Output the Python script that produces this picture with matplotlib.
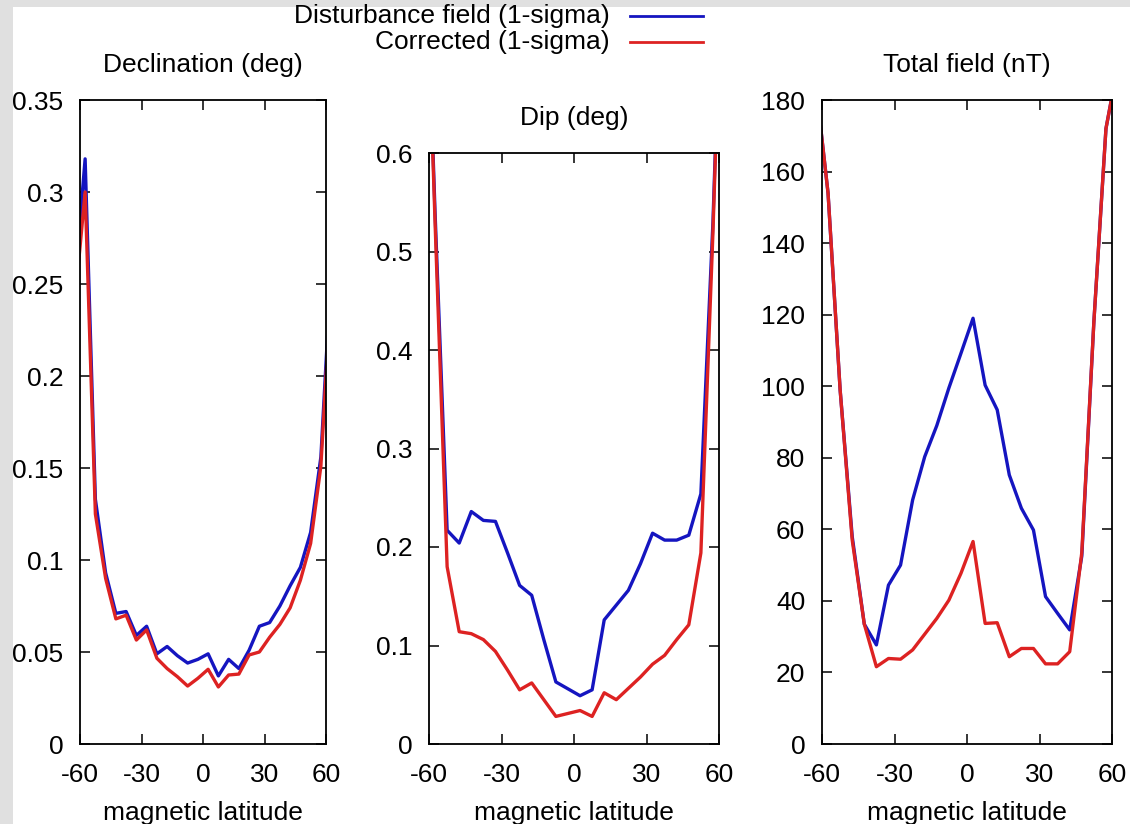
# -*- coding: utf-8 -*-

import matplotlib
matplotlib.use('Agg')
import matplotlib.pyplot as plt
from matplotlib.patches import Rectangle
from matplotlib.lines import Line2D

matplotlib.rc('font', family='Liberation Sans')

# magnetic latitude bins (end points fall just outside the axes and get clipped)
lat = [-62.5, -57.5, -52.5, -47.5, -42.5, -37.5, -32.5, -27.5, -22.5, -17.5,
       -12.5, -7.5, -2.5, 2.5, 7.5, 12.5, 17.5, 22.5, 27.5, 32.5,
       37.5, 42.5, 47.5, 52.5, 57.5, 62.5]

dec_dist = [0.25, 0.318, 0.133, 0.093, 0.071, 0.072, 0.059, 0.064, 0.049, 0.053,
            0.048, 0.044, 0.046, 0.049, 0.037, 0.046, 0.041, 0.051, 0.064, 0.066,
            0.075, 0.086, 0.096, 0.115, 0.156, 0.258]
dec_corr = [0.24, 0.30, 0.125, 0.090, 0.068, 0.070, 0.0565, 0.062, 0.0466, 0.041,
            0.0366, 0.0315, 0.0357, 0.0406, 0.031, 0.0375, 0.038, 0.0484, 0.050, 0.058,
            0.065, 0.074, 0.089, 0.109, 0.151, 0.249]

dip_dist = [0.9, 0.54, 0.217, 0.204, 0.236, 0.227, 0.226, 0.194, 0.161, 0.151,
            0.106, 0.063, 0.056, 0.049, 0.055, 0.126, 0.141, 0.156, 0.183, 0.214,
            0.207, 0.207, 0.212, 0.254, 0.53, 0.9]
dip_corr = [0.9, 0.53, 0.18, 0.114, 0.112, 0.106, 0.094, 0.075, 0.055, 0.062,
            0.045, 0.028, 0.031, 0.034, 0.028, 0.052, 0.045, 0.0565, 0.068, 0.081,
            0.090, 0.106, 0.121, 0.194, 0.52, 0.9]

tot_dist = [184, 154, 99, 58, 33.5, 27.7, 44.4, 50, 68.2, 80.3,
            89, 99.5, 109.2, 119, 100.3, 93.4, 75.2, 65.9, 59.8, 41.2,
            36.5, 31.9, 52.5, 118, 172, 190]
tot_corr = [184, 154, 99, 57, 33.5, 21.6, 23.9, 23.7, 26.3, 30.7,
            35.1, 40.2, 47.7, 56.6, 33.7, 33.9, 24.4, 26.7, 26.7, 22.4,
            22.4, 25.8, 53.5, 118, 172, 190]

x_ticks = [-60, -30, 0, 30, 60]

BLUE = '#1515c0'
RED = '#dd2222'
FS = 19

W, H = 1130, 824
fig = plt.figure(figsize=(W / 100, H / 100), dpi=100, facecolor='white')

# grey frame strips on top and left edge
fig.patches.append(Rectangle((0, 1 - 7 / H), 1, 7 / H, transform=fig.transFigure,
                             facecolor='#e0e0e0', edgecolor='none', zorder=0))
fig.patches.append(Rectangle((0, 0), 13 / W, 1, transform=fig.transFigure,
                             facecolor='#e0e0e0', edgecolor='none', zorder=0))


def make_axes(left, top, right, bottom):
    return fig.add_axes([left / W, 1 - bottom / H, (right - left) / W, (bottom - top) / H])


def style(ax, title, ylim, yticks, ylabels):
    ax.set_xlim(-60, 60)
    ax.set_ylim(*ylim)
    ax.set_xticks(x_ticks)
    ax.set_xticklabels([str(t) for t in x_ticks])
    ax.set_yticks(yticks)
    ax.set_yticklabels(ylabels)
    ax.tick_params(direction='in', top=True, right=True, length=7, width=1.1,
                   labelsize=FS, pad=12)
    ax.tick_params(axis='x', pad=14)
    for s in ax.spines.values():
        s.set_linewidth(1.3)
    ax.set_title(title, fontsize=FS, pad=20)
    ax.set_xlabel('magnetic latitude', fontsize=FS, labelpad=10)


panels = [
    (make_axes(80, 100, 326, 744), 'Declination (deg)', dec_dist, dec_corr, (0, 0.35),
     [0, 0.05, 0.1, 0.15, 0.2, 0.25, 0.3, 0.35],
     ['0', '0.05', '0.1', '0.15', '0.2', '0.25', '0.3', '0.35']),
    (make_axes(429, 153, 719, 744), 'Dip (deg)', dip_dist, dip_corr, (0, 0.6),
     [0, 0.1, 0.2, 0.3, 0.4, 0.5, 0.6],
     ['0', '0.1', '0.2', '0.3', '0.4', '0.5', '0.6']),
    (make_axes(822, 100, 1112, 744), 'Total field (nT)', tot_dist, tot_corr, (0, 180),
     [0, 20, 40, 60, 80, 100, 120, 140, 160, 180],
     ['0', '20', '40', '60', '80', '100', '120', '140', '160', '180']),
]

for ax, title, dist, corr, ylim, yt, yl in panels:
    ax.plot(lat, dist, color=BLUE, lw=2.4)
    ax.plot(lat, corr, color=RED, lw=2.4)
    style(ax, title, ylim, yt, yl)

# legend, drawn by hand at top centre
legend_rows = [('Disturbance field (1-sigma)', BLUE, 16), ('Corrected (1-sigma)', RED, 42)]
for label, color, yp in legend_rows:
    fig.text(610 / W, 1 - yp / H, label, ha='right', va='center', fontsize=FS)
    fig.add_artist(Line2D([630 / W, 703 / W], [1 - yp / H, 1 - yp / H],
                          transform=fig.transFigure, color=color, lw=2.0))

fig.savefig('out.png', dpi=100, facecolor=fig.get_facecolor())
